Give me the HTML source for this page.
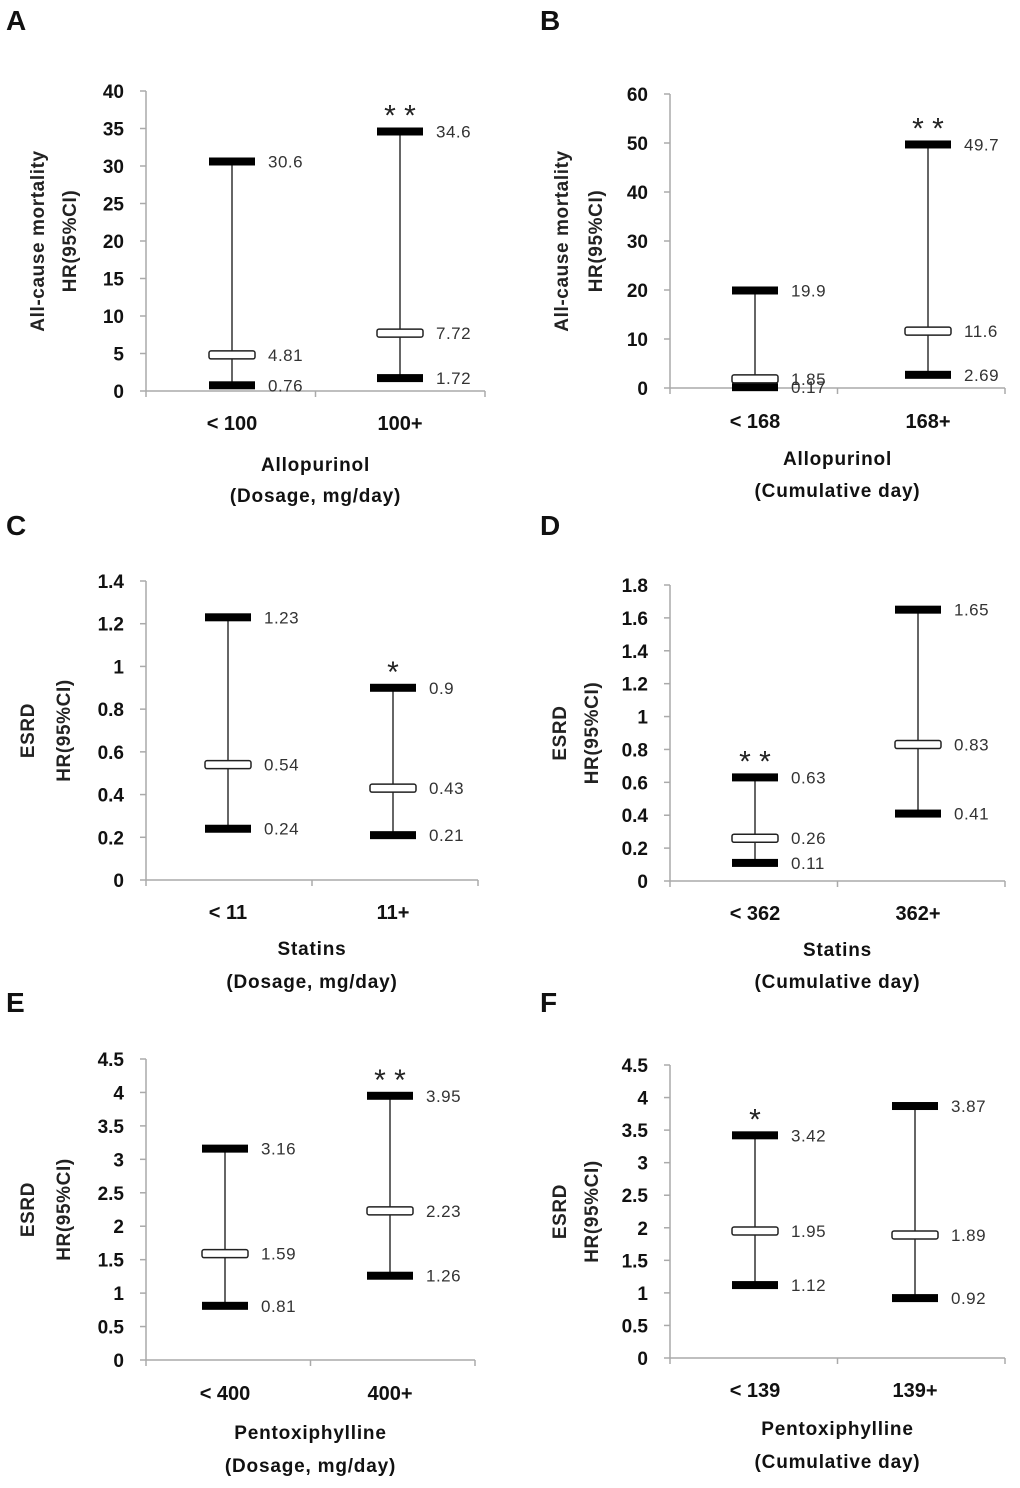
<!DOCTYPE html>
<html><head><meta charset="utf-8">
<style>
body{margin:0;background:#fff;}
svg text{font-family:"Liberation Sans",sans-serif;}
.tick{font-size:19px;font-weight:bold;fill:#111;}
.cat{font-size:20px;font-weight:bold;fill:#111;}
.val{font-size:17px;fill:#333;letter-spacing:0.5px;}
.ttl{font-size:19px;font-weight:bold;fill:#111;letter-spacing:0.8px;}
.yt{font-size:19px;font-weight:bold;fill:#222;letter-spacing:0.6px;}
.let{font-size:28px;font-weight:bold;fill:#111;}
</style></head>
<body>
<svg id="chart" width="1020" height="1483" viewBox="0 0 1020 1483"></svg>
<script>
// Panel data
const panelLetters=["A","B","C","D","E","F"];
const catsA=["< 100","100+"], upperA=[30.6,34.6], hrA=[4.81,7.72], lowerA=[0.76,1.72], starsA=["","**"], ticksA=[0,5,10,15,20,25,30,35,40];
const catsB=["< 168","168+"], upperB=[19.9,49.7], hrB=[1.85,11.6], lowerB=[0.17,2.69], starsB=["","**"], ticksB=[0,10,20,30,40,50,60];
const catsC=["< 11","11+"], upperC=[1.23,0.9], hrC=[0.54,0.43], lowerC=[0.24,0.21], starsC=["","*"], ticksC=["0","0.2","0.4","0.6","0.8","1","1.2","1.4"];
const catsD=["< 362","362+"], upperD=[0.63,1.65], hrD=[0.26,0.83], lowerD=[0.11,0.41], starsD=["**",""], ticksD=["0","0.2","0.4","0.6","0.8","1","1.2","1.4","1.6","1.8"];
const catsE=["< 400","400+"], upperE=[3.16,3.95], hrE=[1.59,2.23], lowerE=[0.81,1.26], starsE=["","**"], ticksE=["0","0.5","1","1.5","2","2.5","3","3.5","4","4.5"];
const catsF=["< 139","139+"], upperF=[3.42,3.87], hrF=[1.95,1.89], lowerF=[1.12,0.92], starsF=["*",""], ticksF=["0","0.5","1","1.5","2","2.5","3","3.5","4","4.5"];
const drugs=["Allopurinol","Allopurinol","Statins","Statins","Pentoxiphylline","Pentoxiphylline"];
const subs=["(Dosage, mg/day)","(Cumulative day)","(Dosage, mg/day)","(Cumulative day)","(Dosage, mg/day)","(Cumulative day)"];
const yt1=["All-cause mortality","All-cause mortality","ESRD","ESRD","ESRD","ESRD"];

// layout (not data)
const layouts=[
 {ax:146,x1:485,y0:391,yT:91,tmax:40,lx:6,ly:30,cx:[232,400],xl:430,d1:471,d2:502,yx:[38,70]},
 {ax:670,x1:1005,y0:388,yT:94,tmax:60,lx:540,ly:30,cx:[755,928],xl:428,d1:465,d2:497,yx:[562,596]},
 {ax:146,x1:478,y0:880,yT:581,tmax:1.4,lx:6,ly:535,cx:[228,393],xl:919,d1:955,d2:988,yx:[28,64]},
 {ax:670,x1:1005,y0:881,yT:585,tmax:1.8,lx:540,ly:535,cx:[755,918],xl:920,d1:956,d2:988,yx:[560,592]},
 {ax:146,x1:475,y0:1360,yT:1059,tmax:4.5,lx:6,ly:1012,cx:[225,390],xl:1400,d1:1439,d2:1472,yx:[28,64]},
 {ax:670,x1:1005,y0:1358,yT:1065,tmax:4.5,lx:540,ly:1012,cx:[755,915],xl:1397,d1:1435,d2:1468,yx:[560,592]}
];
const P=[[catsA,upperA,hrA,lowerA,starsA,ticksA],[catsB,upperB,hrB,lowerB,starsB,ticksB],[catsC,upperC,hrC,lowerC,starsC,ticksC],
 [catsD,upperD,hrD,lowerD,starsD,ticksD],[catsE,upperE,hrE,lowerE,starsE,ticksE],[catsF,upperF,hrF,lowerF,starsF,ticksF]];
const NS="http://www.w3.org/2000/svg", svg=document.getElementById('chart');
function mk(tag,attrs,parent,txt){const e=document.createElementNS(NS,tag);for(const k in attrs)e.setAttribute(k,attrs[k]);if(txt!==undefined)e.textContent=txt;(parent||svg).appendChild(e);return e;}
P.forEach((p,i)=>{
 const [cats,up,hr,lo,st,ticks]=p, L=layouts[i];
 const g=mk('g',{});
 
 
 const y=v=>L.y0-(v/L.tmax)*(L.y0-L.yT);
 const let_=mk('text',{x:L.lx,y:L.ly,class:'let'},g,panelLetters[i]);
 
 
 mk('line',{x1:L.ax,y1:L.yT,x2:L.ax,y2:L.y0,stroke:'#aaa','stroke-width':1.5},g);
 mk('line',{x1:L.ax,y1:L.y0,x2:L.x1,y2:L.y0,stroke:'#aaa','stroke-width':1.5},g);
 const mid=(L.ax+L.x1)/2;
 [L.ax,mid,L.x1].forEach(x=>mk('line',{x1:x,y1:L.y0,x2:x,y2:L.y0+6,stroke:'#aaa','stroke-width':1.5},g));
 ticks.forEach(t=>{const v=+t;
  mk('line',{x1:L.ax-6,y1:y(v),x2:L.ax,y2:y(v),stroke:'#aaa','stroke-width':1.5},g);
  const tt=mk('text',{x:L.ax-22,y:y(v)+7,class:'tick','text-anchor':'end'},g,String(t));
  
  
 });
 cats.forEach((c,j)=>{
  const cx=L.cx[j];
  const cl=mk('text',{x:cx,y:L.xl,class:'cat','text-anchor':'middle'},g,c);
  
  
  mk('line',{x1:cx,y1:y(up[j]),x2:cx,y2:y(lo[j]),stroke:'#333','stroke-width':1.5},g);
  const u=mk('rect',{x:cx-23,y:y(up[j])-4,width:46,height:8,fill:'#000'},g);
  
  
  const l=mk('rect',{x:cx-23,y:y(lo[j])-4,width:46,height:8,fill:'#000'},g);
  
  
  const h=mk('rect',{x:cx-23,y:y(hr[j])-4,width:46,height:8,rx:2,fill:'#fff',stroke:'#222','stroke-width':1.5},g);
  
  
  [up[j],hr[j],lo[j]].forEach(v=>{
   const vt=mk('text',{x:cx+36,y:y(v)+6,class:'val'},g,String(v));
   
   
  });
  if(st[j]){const s=mk('text',{x:cx,y:y(up[j])-6,'font-size':'30px',fill:'#222','text-anchor':'middle'},g,st[j].split('').join(' '));
   
   }
 });
 const d1=mk('text',{x:mid,y:L.d1,class:'ttl','text-anchor':'middle'},g,drugs[i]);
 
 
 const d2=mk('text',{x:mid,y:L.d2,class:'ttl','text-anchor':'middle'},g,subs[i]);
 
 
 const ym=(L.y0+L.yT)/2;
 const a=mk('text',{x:L.yx[0],y:ym,class:'yt','text-anchor':'middle',transform:`rotate(-90 ${L.yx[0]} ${ym})`,dy:6},g,yt1[i]);
 
 
 const b=mk('text',{x:L.yx[1],y:ym,class:'yt','text-anchor':'middle',transform:`rotate(-90 ${L.yx[1]} ${ym})`,dy:6},g,'HR(95%CI)');
 
 
});
</script>
</body></html>
